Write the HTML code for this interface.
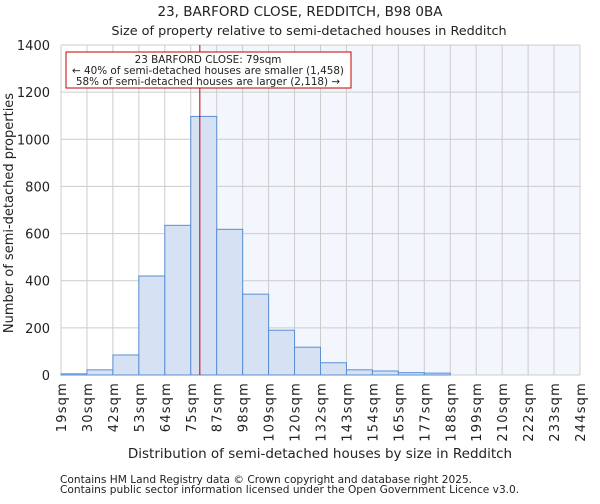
<!DOCTYPE html>
<html><head><meta charset="utf-8"><style>
body{margin:0;background:#fff;font-family:"DejaVu Sans","Liberation Sans",sans-serif;}
svg text{font-family:"DejaVu Sans","Liberation Sans",sans-serif;fill:#222;}
</style></head><body>
<svg id="c" width="600" height="500">
<text x="300" y="16" font-size="13.5" text-anchor="middle">23, BARFORD CLOSE, REDDITCH, B98 0BA</text>
<text x="309" y="35" font-size="12.8" text-anchor="middle">Size of property relative to semi-detached houses in Redditch</text>
<g id="plot"></g>
<text x="320" y="458" font-size="13.5" text-anchor="middle">Distribution of semi-detached houses by size in Redditch</text>
<text transform="translate(13,213) rotate(-90)" font-size="13" text-anchor="middle">Number of semi-detached properties</text>
<text x="60" y="483" font-size="10.6" fill="#444">Contains HM Land Registry data © Crown copyright and database right 2025.</text>
<text x="60" y="493" font-size="10.6" fill="#444">Contains public sector information licensed under the Open Government Licence v3.0.</text>
</svg>
<script>
const binLabels=["19sqm","30sqm","42sqm","53sqm","64sqm","75sqm","87sqm","98sqm","109sqm","120sqm","132sqm","143sqm","154sqm","165sqm","177sqm","188sqm","199sqm","210sqm","222sqm","233sqm","244sqm"];
const counts=[5,22,85,420,635,1097,618,343,190,118,52,22,17,10,8,0,0,0,0,0];
const yTicks=[0,200,400,600,800,1000,1200,1400];
const markerBin=5.35;
const NS="http://www.w3.org/2000/svg";
const L=61,R=580,T=45,B=375,YMAX=1400;
const nb=counts.length;
function xs(i){return L+(R-L)*i/nb;}
function ys(v){return B-(B-T)*v/YMAX;}
const g=document.getElementById('plot');
function mk(tag,a){const e=document.createElementNS(NS,tag);for(const k in a)e.setAttribute(k,a[k]);g.appendChild(e);return e;}
const mx=xs(markerBin);
let e=mk('rect',{x:mx,y:T,width:R-mx,height:B-T,fill:'#f3f6fd'});


for(let i=0;i<=nb;i++){e=mk('line',{x1:xs(i),x2:xs(i),y1:T,y2:B,stroke:'#cccccc','stroke-width':1});

}
yTicks.forEach(v=>{e=mk('line',{x1:L,x2:R,y1:ys(v),y2:ys(v),stroke:'#cccccc','stroke-width':1});


e=mk('text',{x:L-11,y:ys(v)+5,'font-size':13,'text-anchor':'end'});e.textContent=v;

});
counts.forEach((c,i)=>{e=mk('rect',{x:xs(i),y:ys(c),width:xs(i+1)-xs(i),height:B-ys(c),fill:'#d6e1f3',stroke:'#5b8fd6','stroke-width':1});

});
binLabels.forEach((t,i)=>{const x=xs(i);e=mk('text',{transform:`translate(${x+5},${B+7}) rotate(-90)`,'font-size':13,'letter-spacing':1.2,'text-anchor':'end'});e.textContent=t;

});
e=mk('line',{x1:mx,x2:mx,y1:T,y2:B,stroke:'#c00000','stroke-width':1});


e=mk('rect',{x:66,y:52,width:285,height:36,fill:'#fff',stroke:'#c00000','stroke-width':1});


[["23 BARFORD CLOSE: 79sqm",63],["← 40% of semi-detached houses are smaller (1,458)",74],["58% of semi-detached houses are larger (2,118) →",85]].forEach(([t,y])=>{e=mk('text',{x:208,y:y,'font-size':10.4,'text-anchor':'middle'});e.textContent=t;

});
</script>
</body></html>
